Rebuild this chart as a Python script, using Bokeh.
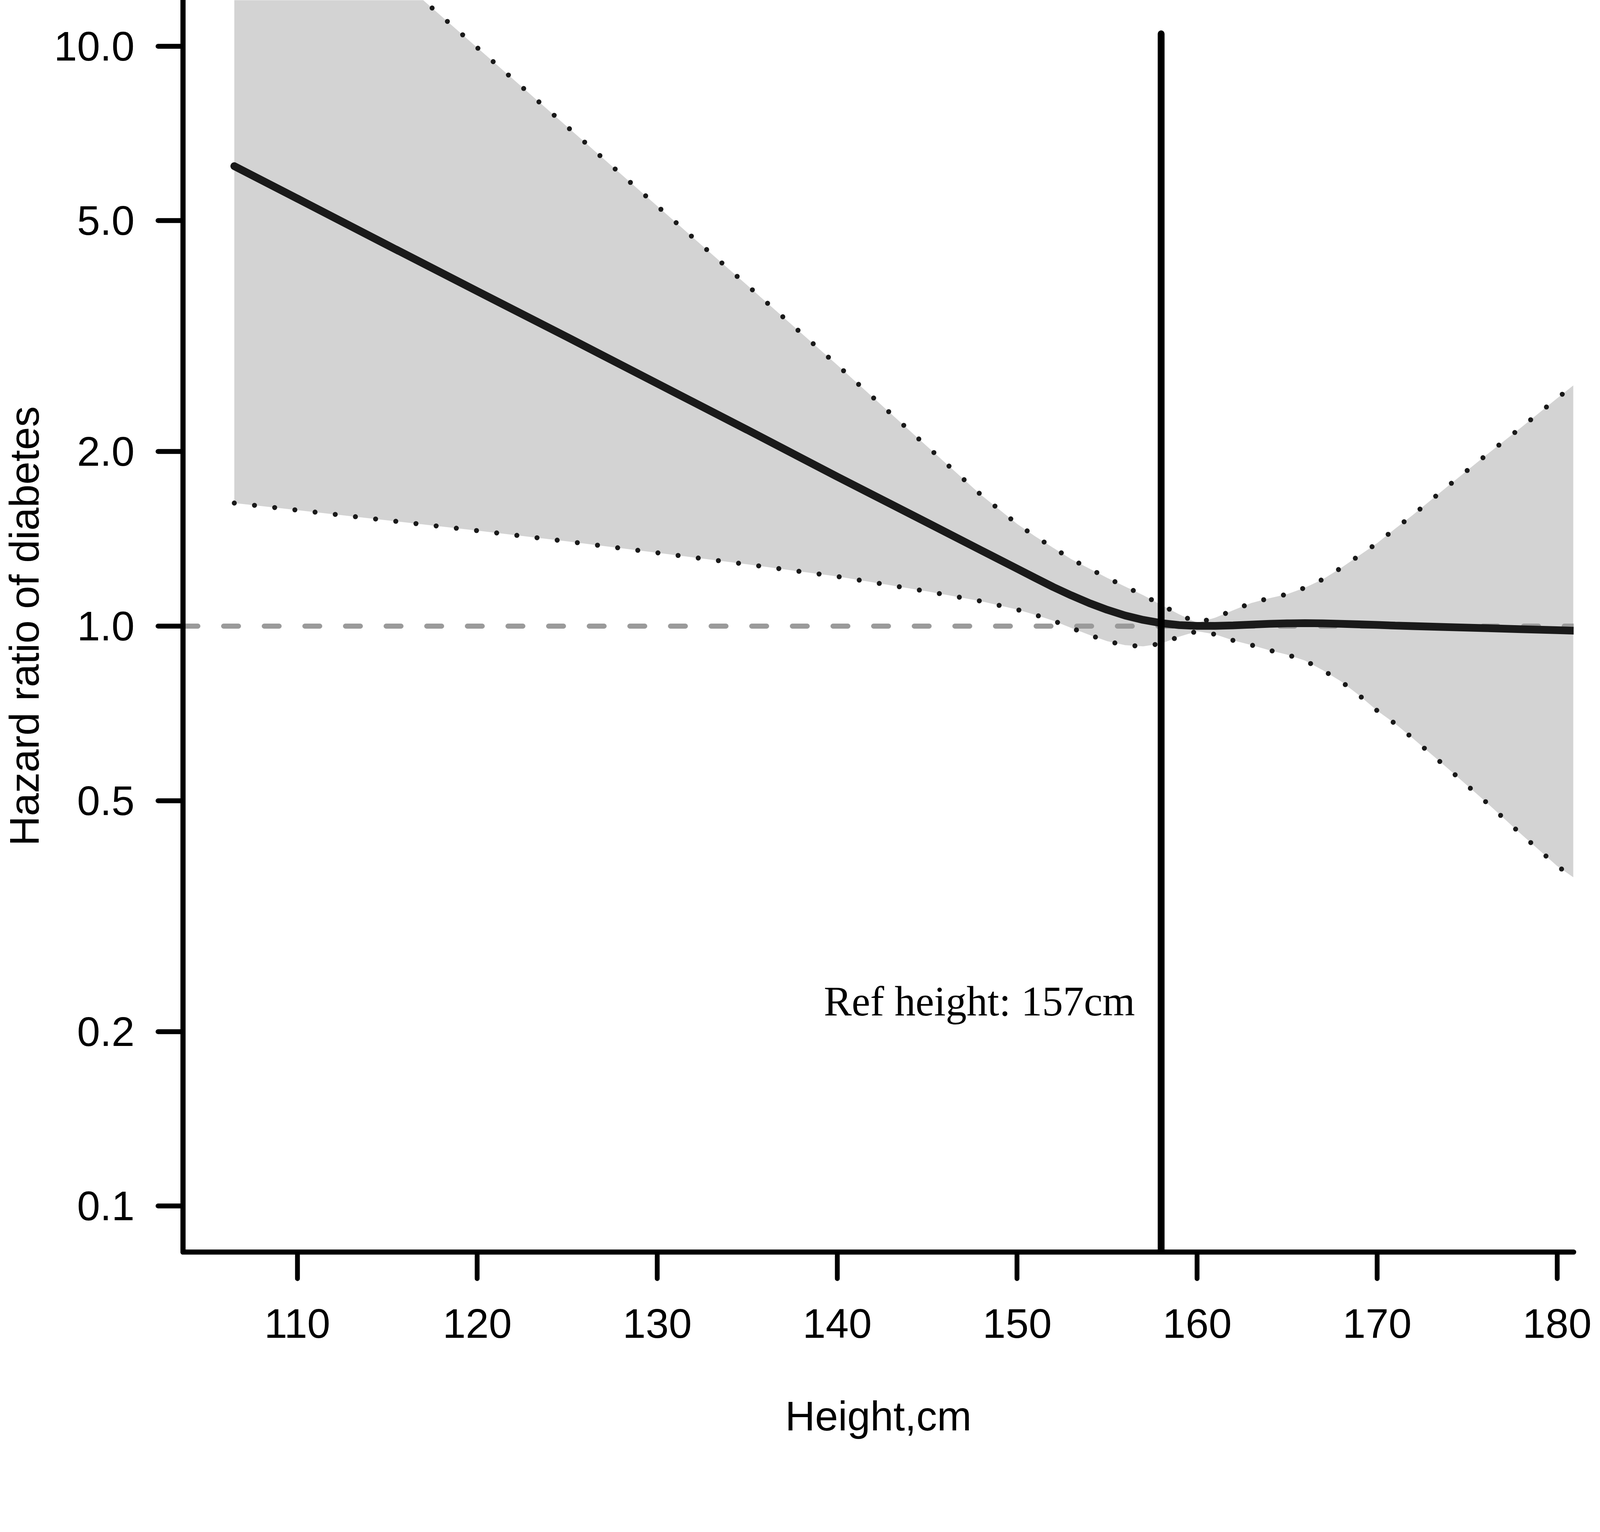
from bokeh.plotting import figure
from bokeh.models import Range1d, FixedTicker, PrintfTickFormatter
from bokeh.core.properties import value
from bokeh.embed import file_html
from bokeh.resources import INLINE

# ---- data ----
height_cm = [106.5, 110, 115, 120, 125, 130, 135, 140, 145, 148,
             150, 151, 152, 153, 154, 155, 156, 157, 158, 159, 160,
             161, 162, 163, 164, 165, 166, 167, 168, 169, 170,
             171, 172, 174, 176, 178, 180, 180.9]
hr = [6.21, 5.46, 4.54, 3.78, 3.15, 2.62, 2.18, 1.81, 1.508, 1.351,
      1.256, 1.211, 1.168, 1.130, 1.096, 1.067, 1.043, 1.025, 1.012, 1.004, 1.001,
      1.001, 1.003, 1.006, 1.009, 1.011, 1.012, 1.011, 1.009, 1.007, 1.005,
      1.002, 1.000, 0.996, 0.992, 0.988, 0.984, 0.982]
hr_upper = [23.3, 18.7, 13.6, 9.94, 7.26, 5.30, 3.87, 2.82, 2.04, 1.683,
            1.50, 1.428, 1.365, 1.305, 1.257, 1.211, 1.170, 1.131, 1.088, 1.048, 1.013,
            1.034, 1.065, 1.096, 1.117, 1.135, 1.165, 1.205, 1.26, 1.323, 1.39,
            1.472, 1.556, 1.75, 1.965, 2.20, 2.47, 2.60]
hr_lower = [1.63, 1.585, 1.522, 1.461, 1.400, 1.338, 1.278, 1.218, 1.148, 1.104,
            1.068, 1.046, 1.022, 0.993, 0.966, 0.942, 0.927, 0.923, 0.933, 0.959, 0.980,
            0.968, 0.945, 0.928, 0.909, 0.893, 0.872, 0.839, 0.803, 0.760, 0.715,
            0.679, 0.640, 0.566, 0.499, 0.438, 0.386, 0.369]

x_ticks = [110, 120, 130, 140, 150, 160, 170, 180]
y_ticks = [0.1, 0.2, 0.5, 1.0, 2.0, 5.0, 10.0]
x_limits = (103.65, 180.92)
y_limits = (1 / 12, 12)

ref_hr = 1.0
ref_height = 158
ref_line_top = 10.5
ref_label = "Ref height: 157cm"
ref_label_x = 147.9
ref_label_y = 0.2254

x_title = "Height,cm"
y_title = "Hazard ratio of diabetes"

# ---- figure ----
p = figure(width=4076, height=3688, title=None,
           x_range=Range1d(*x_limits), y_range=Range1d(*y_limits),
           y_axis_type="log", output_backend="svg", toolbar_location=None,
           min_border_left=465, min_border_right=48, min_border_top=0,
           min_border_bottom=484)
p.outline_line_color = None
p.xgrid.visible = False
p.ygrid.visible = False
p.background_fill_color = "white"
p.border_fill_color = "white"

# confidence band
p.varea(x=height_cm, y1=hr_lower, y2=hr_upper, fill_color="#d3d3d3")

# reference HR = 1 dashed line
p.line(x=list(x_limits), y=[ref_hr, ref_hr], line_color="#9a9a9a",
       line_width=13, line_dash="38 66", line_cap="round")

# band borders (dotted)
for band in (hr_upper, hr_lower):
    p.line(x=height_cm, y=band, line_color="#1a1a1a", line_width=12.8,
           line_dash="0 52", line_cap="round")

# HR curve
p.line(x=height_cm, y=hr, line_color="#1a1a1a", line_width=19.8, line_cap="round")

# vertical reference line
p.line(x=[ref_height, ref_height], y=[y_limits[0] * 0.5, ref_line_top],
       line_color="black", line_width=17.5, line_cap="round")

# label
p.text(x=[ref_label_x], y=[ref_label_y], text=[ref_label],
       text_font=value("Liberation Serif"), text_font_size="107px",
       text_color="black", text_align="center", text_baseline="middle")

# axes
for ax in (p.xaxis[0], p.yaxis[0]):
    ax.axis_line_width = 13.2
    ax.axis_line_color = "black"
    ax.axis_line_cap = "round"
    ax.major_tick_line_width = 12.3
    ax.major_tick_line_color = "black"
    ax.major_tick_line_cap = "round"
    ax.major_tick_in = 0
    ax.minor_tick_line_color = None
    ax.major_label_text_font = "Liberation Sans"
    ax.major_label_text_font_size = "106px"
    ax.major_label_text_color = "black"
    ax.axis_label_text_font = "Liberation Sans"
    ax.axis_label_text_font_size = "106px"
    ax.axis_label_text_font_style = "normal"
    ax.axis_label_text_color = "black"

p.xaxis.ticker = FixedTicker(ticks=x_ticks)
p.xaxis.major_tick_out = 68
p.xaxis.major_label_standoff = 78
p.xaxis.axis_label = x_title
p.xaxis.axis_label_standoff = 138

p.yaxis.ticker = FixedTicker(ticks=y_ticks)
p.yaxis.formatter = PrintfTickFormatter(format="%.1f")
p.yaxis.major_tick_out = 64
p.yaxis.major_label_standoff = 60
p.yaxis.axis_label = y_title
p.yaxis.axis_label_standoff = 14

open("out.html", "w").write(file_html(p, INLINE))
